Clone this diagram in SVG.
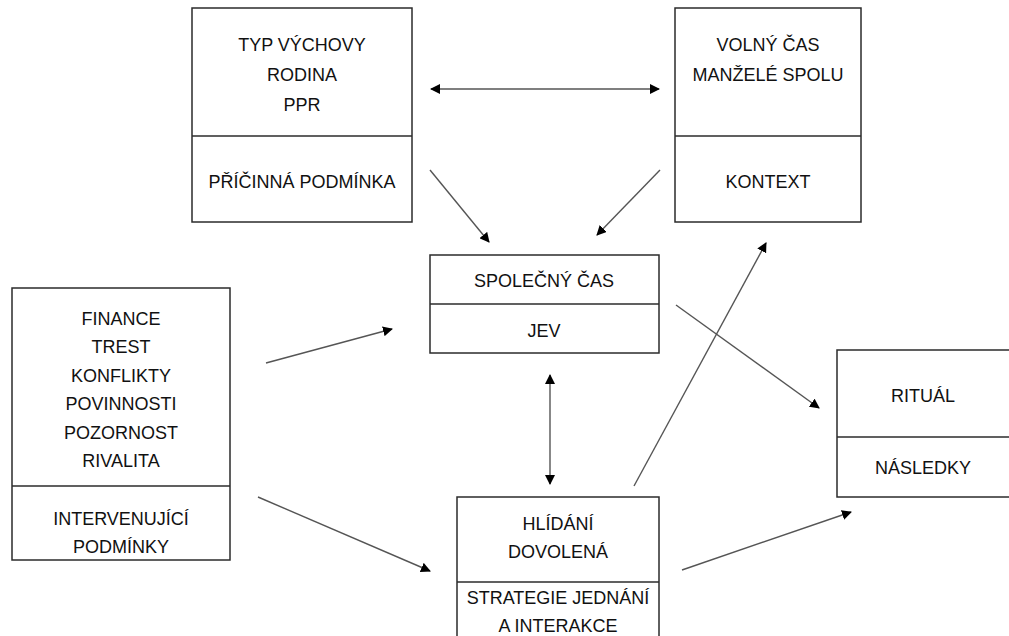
<svg xmlns="http://www.w3.org/2000/svg" width="1009" height="636" viewBox="0 0 1009 636">
<style>
.box{fill:#fff;stroke:#2b2b2b;stroke-width:1.5}
.div{stroke:#2b2b2b;stroke-width:1.5}
text{font-family:"Liberation Sans",Arial,sans-serif;font-size:18px;fill:#111;text-anchor:middle}
.c{stroke:#555;stroke-width:1.4;fill:none}
</style>
<defs>
<marker id="ah" viewBox="0 0 10 10" refX="9" refY="5" markerWidth="10" markerHeight="10" markerUnits="userSpaceOnUse" orient="auto-start-reverse">
<path d="M0,0 L10,5 L0,10 z" fill="#000"/>
</marker>
</defs>
<rect width="1009" height="636" fill="#fff"/>
<g id="n1">
<rect class="box" x="192" y="8" width="220" height="214"/>
<line class="div" x1="192" y1="136" x2="412" y2="136"/>
<text x="302" y="51">TYP VÝCHOVY</text>
<text x="302" y="81">RODINA</text>
<text x="302" y="111">PPR</text>
<text x="302" y="188">PŘÍČINNÁ PODMÍNKA</text>
</g>
<g id="n2">
<rect class="box" x="675" y="8" width="186" height="214"/>
<line class="div" x1="675" y1="136" x2="861" y2="136"/>
<text x="768" y="51">VOLNÝ ČAS</text>
<text x="768" y="81">MANŽELÉ SPOLU</text>
<text x="768" y="188">KONTEXT</text>
</g>
<g id="n3">
<rect class="box" x="430" y="255" width="229" height="98"/>
<line class="div" x1="430" y1="304" x2="659" y2="304"/>
<text x="544" y="287">SPOLEČNÝ ČAS</text>
<text x="544" y="337">JEV</text>
</g>
<g id="n4">
<rect class="box" x="12" y="288" width="218" height="272"/>
<line class="div" x1="12" y1="486" x2="230" y2="486"/>
<text x="121" y="325">FINANCE</text>
<text x="121" y="353">TREST</text>
<text x="121" y="382">KONFLIKTY</text>
<text x="121" y="410">POVINNOSTI</text>
<text x="121" y="439">POZORNOST</text>
<text x="121" y="467">RIVALITA</text>
<text x="121" y="525">INTERVENUJÍCÍ</text>
<text x="121" y="553">PODMÍNKY</text>
</g>
<g id="n5">
<rect class="box" x="457" y="497" width="202" height="150"/>
<line class="div" x1="457" y1="582" x2="659" y2="582"/>
<text x="558" y="530">HLÍDÁNÍ</text>
<text x="558" y="558">DOVOLENÁ</text>
<text x="558" y="604">STRATEGIE JEDNÁNÍ</text>
<text x="558" y="632">A INTERAKCE</text>
</g>
<g id="n6">
<rect class="box" x="837" y="350" width="190" height="147"/>
<line class="div" x1="837" y1="437" x2="1027" y2="437"/>
<text x="923" y="402">RITUÁL</text>
<text x="923" y="474">NÁSLEDKY</text>
</g>
<g id="connectors">
<line class="c" x1="431" y1="89" x2="659" y2="89" marker-start="url(#ah)" marker-end="url(#ah)"/>
<line class="c" x1="430" y1="170" x2="489" y2="242" marker-end="url(#ah)"/>
<line class="c" x1="660" y1="170" x2="597" y2="235" marker-end="url(#ah)"/>
<line class="c" x1="266" y1="363" x2="392" y2="329" marker-end="url(#ah)"/>
<line class="c" x1="550" y1="375" x2="550" y2="484" marker-start="url(#ah)" marker-end="url(#ah)"/>
<line class="c" x1="258" y1="497" x2="430" y2="571" marker-end="url(#ah)"/>
<line class="c" x1="634" y1="486" x2="766" y2="243" marker-end="url(#ah)"/>
<line class="c" x1="676" y1="305" x2="819" y2="408" marker-end="url(#ah)"/>
<line class="c" x1="682" y1="570" x2="851" y2="512" marker-end="url(#ah)"/>
</g>
</svg>
